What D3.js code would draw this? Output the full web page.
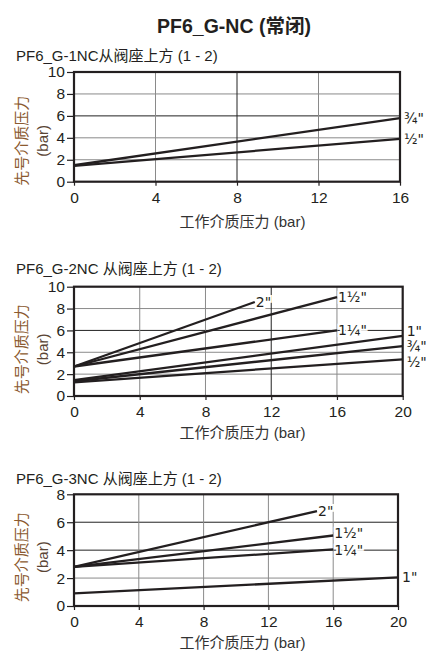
<!DOCTYPE html>
<html>
<head>
<meta charset="utf-8">
<script src="https://cdn.jsdelivr.net/npm/d3@7"></script>
<style>
  body { margin: 0; background: #fff; }
  svg { display: block; }
</style>
</head>
<body>
<svg id="chart" width="441" height="655"></svg>
<script>
// texts
const mainTitle = 'PF6_G-NC (常闭)';
const yTitle = '先号介质压力';
const yUnit = '(bar)';
const xTitle = '工作介质压力 (bar)';

// panel 1: PF6_G-1NC
const p1Title = 'PF6_G-1NC从阀座上方 (1 - 2)';
const p1XTicks = [0, 4, 8, 12, 16];
const p1YTicks = [0, 2, 4, 6, 8, 10];
const p1Sizes = ['¾"', '½"'];
const p1Start = [1.5, 1.45];
const p1EndX = [16, 16];
const p1EndY = [5.8, 3.9];

// panel 2: PF6_G-2NC
const p2Title = 'PF6_G-2NC 从阀座上方 (1 - 2)';
const p2XTicks = [0, 4, 8, 12, 16, 20];
const p2YTicks = [0, 2, 4, 6, 8, 10];
const p2Sizes = ['2"', '1½"', '1¼"', '1"', '¾"', '½"'];
const p2Start = [2.7, 2.7, 2.7, 1.45, 1.35, 1.25];
const p2EndX = [11, 16, 16, 20, 20, 20];
const p2EndY = [8.6, 9.05, 6.0, 5.5, 4.57, 3.36];

// panel 3: PF6_G-3NC
const p3Title = 'PF6_G-3NC 从阀座上方 (1 - 2)';
const p3XTicks = [0, 4, 8, 12, 16, 20];
const p3YTicks = [0, 2, 4, 6, 8];
const p3Sizes = ['2"', '1½"', '1¼"', '1"'];
const p3Start = [2.8, 2.8, 2.8, 0.9];
const p3EndX = [15, 16, 16, 20];
const p3EndY = [6.8, 5.05, 4.05, 2.05];

const font = '"Liberation Sans", Arial, "Noto Sans CJK SC", sans-serif';
const labelFont = '"DejaVu Sans", "Liberation Sans", sans-serif';
const ink = '#231f20';

const svg = d3.select('#chart');

svg.append('text')
    .attr('x', 234)
    .attr('y', 33)
    .attr('text-anchor', 'middle')
    .attr('font-family', font)
    .attr('font-size', 19.5)
    .attr('font-weight', 'bold')
    .attr('fill', ink)
    .text(mainTitle);

// layout of each panel (pixels)
const panels = [
    { title: p1Title, xTicks: p1XTicks, yTicks: p1YTicks, sizes: p1Sizes, start: p1Start, endX: p1EndX, endY: p1EndY,
      left: 74, right: 400, top: 72, bottom: 181.7, titleY: 61, darkX: [8], darkY: [6],
      shift: {}, yTitleDy: 14, xTitleDy: 45 },
    { title: p2Title, xTicks: p2XTicks, yTicks: p2YTicks, sizes: p2Sizes, start: p2Start, endX: p2EndX, endY: p2EndY,
      left: 74, right: 402.7, top: 286.7, bottom: 396, titleY: 273.5, darkX: [12], darkY: [6],
      shift: { '1"': -5, '¾"': 0, '½"': 3 }, yTitleDy: 8, xTitleDy: 42 },
    { title: p3Title, xTicks: p3XTicks, yTicks: p3YTicks, sizes: p3Sizes, start: p3Start, endX: p3EndX, endY: p3EndY,
      left: 74, right: 398, top: 494.3, bottom: 606, titleY: 483.5, darkX: [], darkY: [4, 6],
      shift: { '1½"': -3, '1¼"': 1 }, yTitleDy: 7, xTitleDy: 42 }
];

function drawPanel(p) {
    const xs = d3.scaleLinear()
        .domain(d3.extent(p.xTicks))
        .range([p.left, p.right]);
    const ys = d3.scaleLinear()
        .domain(d3.extent(p.yTicks))
        .range([p.bottom, p.top]);

    const g = svg.append('g');

    // subtitle
    g.append('text')
        .attr('x', 16)
        .attr('y', p.titleY)
        .attr('font-family', font)
        .attr('font-size', 15)
        .attr('fill', ink)
        .text(p.title);

    // grid
    const xMax = d3.max(p.xTicks), yMax = d3.max(p.yTicks);
    g.append('g')
        .selectAll('line')
        .data(p.yTicks.filter(v => v > 0 && v < yMax))
        .enter()
        .append('line')
            .attr('x1', p.left)
            .attr('x2', p.right)
            .attr('y1', d => ys(d))
            .attr('y2', d => ys(d))
            .attr('stroke', d => p.darkY.includes(d) ? '#222' : '#8a8a8a')
            .attr('stroke-width', 1);
    g.append('g')
        .selectAll('line')
        .data(p.xTicks.filter(v => v > 0 && v < xMax))
        .enter()
        .append('line')
            .attr('y1', p.top)
            .attr('y2', p.bottom)
            .attr('x1', d => xs(d))
            .attr('x2', d => xs(d))
            .attr('stroke', d => p.darkX.includes(d) ? '#222' : '#8a8a8a')
            .attr('stroke-width', 1);

    // axes
    const yAxis = g.append('g')
        .attr('transform', `translate(${p.left},0)`)
        .call(d3.axisLeft(ys).tickValues(p.yTicks).tickSize(7).tickPadding(2));
    const xAxis = g.append('g')
        .attr('transform', `translate(0,${p.bottom})`)
        .call(d3.axisBottom(xs).tickValues(p.xTicks).tickSize(4).tickPadding(6));
    [yAxis, xAxis].forEach(a => {
        a.select('.domain').remove();
        a.selectAll('line').attr('stroke', ink).attr('stroke-width', 1.2);
        a.selectAll('text')
            .attr('font-family', font)
            .attr('font-size', 15.5)
            .attr('fill', ink);
    });

    // size labels with white halo, drawn before the lines
    const series = p.sizes.map((s, i) => ({
        size: s,
        pts: [[0, p.start[i]], [p.endX[i], p.endY[i]]]
    }));

    g.append('g')
        .selectAll('text')
        .data(series)
        .enter()
        .append('text')
            .attr('x', d => xs(d.pts[1][0]) + (d.pts[1][0] === xMax ? 4 : 1))
            .attr('y', d => ys(d.pts[1][1]) + (p.shift[d.size] || 0))
            .attr('dy', '0.36em')
            .attr('font-family', labelFont)
            .attr('font-size', 14)
            .attr('fill', ink)
            .attr('stroke', '#fff')
            .attr('stroke-width', 4)
            .attr('paint-order', 'stroke')
            .text(d => d.size);

    const line = d3.line()
        .x(d => xs(d[0]))
        .y(d => ys(d[1]));

    g.append('g')
        .selectAll('path')
        .data(series)
        .enter()
        .append('path')
            .attr('d', d => line(d.pts))
            .attr('fill', 'none')
            .attr('stroke', ink)
            .attr('stroke-width', 2.3);

    // frame
    g.append('rect')
        .attr('x', p.left)
        .attr('y', p.top)
        .attr('width', p.right - p.left)
        .attr('height', p.bottom - p.top)
        .attr('fill', 'none')
        .attr('stroke', ink)
        .attr('stroke-width', 2.2);

    // axis titles
    const midY = (p.top + p.bottom) / 2 + p.yTitleDy;
    g.append('text')
        .attr('transform', `translate(21.5,${midY}) rotate(-90)`)
        .attr('text-anchor', 'middle')
        .attr('dominant-baseline', 'central')
        .attr('font-family', font)
        .attr('font-size', 15)
        .attr('fill', '#8b5a30')
        .text(yTitle);
    g.append('text')
        .attr('transform', `translate(42.5,${midY}) rotate(-90)`)
        .attr('text-anchor', 'middle')
        .attr('dominant-baseline', 'central')
        .attr('font-family', font)
        .attr('font-size', 15)
        .attr('fill', '#5a4535')
        .text(yUnit);

    g.append('text')
        .attr('x', 242.5)
        .attr('y', p.bottom + p.xTitleDy)
        .attr('text-anchor', 'middle')
        .attr('font-family', font)
        .attr('font-size', 15)
        .attr('fill', '#333')
        .text(xTitle);
}

panels.forEach(drawPanel);
</script>
</body>
</html>
